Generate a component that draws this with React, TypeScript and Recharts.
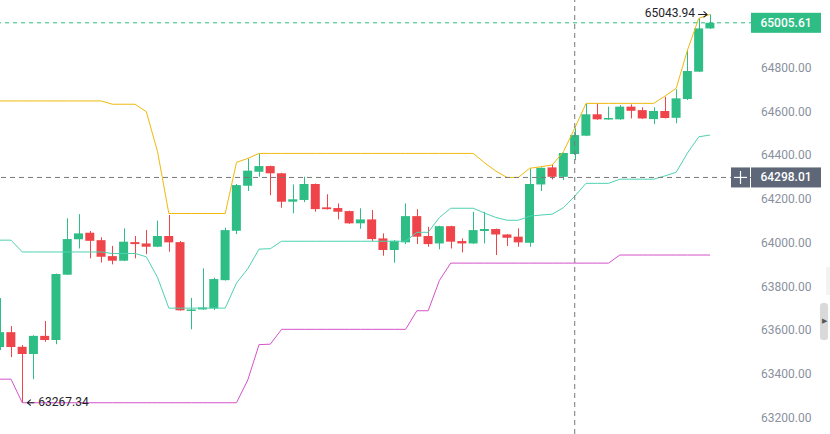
import { ComposedChart, Bar, Line, XAxis, YAxis, ReferenceLine, ReferenceDot } from 'recharts';

const opens = [
  63522, 63590, 63523, 63490, 63573, 63554, 63853, 64015, 64045, 64011,
  63938, 63917, 64002, 63996, 63981, 64030, 64002, 63688, 63694, 63699,
  63828, 64054, 64260, 64324, 64350, 64317, 64187, 64195, 64268, 64161,
  64158, 64144, 64088, 64106, 64019, 63966, 64001, 64121, 64030, 63996,
  64075, 64007, 63996, 64053, 64062, 64037, 64027, 63999, 64266, 64344,
  64301, 64405, 64489, 64587, 64564, 64564, 64622, 64606, 64565, 64602,
  64571, 64657, 64782, 64980,
];
const highs = [
  63746, 63618, 63531, 63576, 63641, 63858, 64111, 64130, 64053, 64024,
  63985, 64065, 64030, 64057, 64100, 64126, 64007, 63747, 63882, 63839,
  64068, 64268, 64385, 64405, 64352, 64319, 64266, 64301, 64270, 64221,
  64179, 64146, 64157, 64149, 64042, 64011, 64179, 64153, 64072, 64077,
  64077, 64019, 64141, 64141, 64064, 64039, 64065, 64340, 64344, 64358,
  64412, 64523, 64637, 64637, 64622, 64629, 64632, 64619, 64619, 64667,
  64701, 64881, 65026, 65043.94,
];
const lows = [
  63508, 63476, 63267.34, 63375, 63546, 63535, 63852, 63973, 63928, 63909,
  63900, 63915, 63928, 63947, 63979, 63958, 63688, 63603, 63692, 63691,
  63826, 64039, 64236, 64301, 64217, 64159, 64134, 64185, 64141, 64151,
  64106, 64086, 64063, 64007, 63940, 63908, 63993, 63993, 63981, 63969,
  63973, 63955, 63994, 63996, 63943, 63984, 63981, 63981, 64236, 64289,
  64286, 64378, 64487, 64562, 64562, 64562, 64568, 64566, 64542, 64568,
  64546, 64652, 64780, 64978,
];
const closes = [
  63590, 63522, 63490, 63573, 63554, 63856, 64016, 64042, 64008, 63935,
  63917, 64004, 63993, 63981, 64030, 64001, 63690, 63694, 63703, 63833,
  64057, 64263, 64329, 64350, 64317, 64187, 64198, 64268, 64153, 64153,
  64141, 64088, 64106, 64016, 63966, 64008, 64121, 64027, 63993, 64075,
  64004, 63996, 64057, 64062, 64037, 64022, 64001, 64268, 64342, 64301,
  64410, 64492, 64587, 64564, 64570, 64622, 64603, 64568, 64602, 64570,
  64660, 64785, 64980, 65005.61,
];
const upperBand = [
  64648, 64648, 64648, 64648, 64648, 64648, 64648, 64648, 64648, 64648,
  64633, 64633, 64633, 64599, 64416, 64133, 64133, 64133, 64133, 64133,
  64133, 64367, 64385, 64408, 64408, 64408, 64408, 64408, 64408, 64408,
  64408, 64408, 64408, 64408, 64408, 64408, 64408, 64408, 64408, 64408,
  64408, 64408, 64408, 64365, 64327, 64298, 64298, 64340, 64347, 64355,
  64416, 64523, 64637, 64637, 64637, 64637, 64637, 64637, 64637, 64670,
  64706, 64881, 65026, 65044,
];
const middleBand = [
  64011, 64011, 63957, 63957, 63957, 63957, 63957, 63957, 63957, 63957,
  63950, 63950, 63950, 63935, 63840, 63700, 63700, 63700, 63700, 63700,
  63700, 63815, 63880, 63970, 63972, 64006, 64006, 64006, 64006, 64006,
  64006, 64006, 64006, 64006, 64006, 64006, 64006, 64047, 64047, 64115,
  64157, 64157, 64157, 64135, 64115, 64102, 64102, 64121, 64126, 64130,
  64160, 64212, 64271, 64271, 64271, 64290, 64290, 64290, 64290, 64305,
  64322, 64410, 64484, 64492,
];
const lowerBand = [
  63375, 63375, 63267, 63267, 63267, 63267, 63267, 63267, 63267, 63267,
  63267, 63267, 63267, 63267, 63267, 63267, 63267, 63267, 63267, 63267,
  63267, 63267, 63371, 63533, 63535, 63603, 63603, 63603, 63603, 63603,
  63603, 63603, 63603, 63603, 63603, 63603, 63603, 63688, 63688, 63827,
  63906, 63906, 63906, 63906, 63906, 63906, 63906, 63906, 63906, 63906,
  63906, 63906, 63906, 63906, 63906, 63943, 63943, 63943, 63943, 63943,
  63943, 63943, 63943, 63943,
];
const priceTicks = [63200, 63400, 63600, 63800, 64000, 64200, 64400, 64600, 64800];

const lastPrice = 65005.61;
const crossPrice = 64298.01;
const crossIndex = 51;
const maxIndex = 63;
const minIndex = 2;

const GREEN = '#2ebd85';
const RED = '#ef454a';

const data = opens.map((open, i) => ({
  i,
  open,
  high: highs[i],
  low: lows[i],
  close: closes[i],
  upper: upperBand[i],
  middle: middleBand[i],
  lower: lowerBand[i],
}));

const Candle = (props: any) => {
  const { x, y, width, height, payload } = props;
  if (x == null || y == null) return null;
  const top = Math.min(y, y + height);
  const bottom = Math.max(y, y + height);
  const span = payload.high - payload.low;
  const toY = (v: number) => (span === 0 ? top : top + ((payload.high - v) / span) * (bottom - top));
  const up = payload.close >= payload.open;
  const color = up ? GREEN : RED;
  const bTop = toY(Math.max(payload.open, payload.close));
  const bBot = toY(Math.min(payload.open, payload.close));
  const cx = Math.round(x + width / 2) + 0.5;
  return (
    <g>
      <line x1={cx} x2={cx} y1={top} y2={bottom} stroke={color} strokeWidth={1} />
      <rect x={x} y={bTop} width={width} height={Math.max(1.5, bBot - bTop)} fill={color} />
    </g>
  );
};

const PriceTag = ({ viewBox, text, fill, plus }: any) => {
  const cy = viewBox.y;
  return (
    <g>
      {plus && (
        <g>
          <rect x={731} y={cy - 10} width={19} height={20} fill={fill} />
          <line x1={734} x2={747} y1={cy} y2={cy} stroke="#fff" strokeWidth={1.2} />
          <line x1={740.5} x2={740.5} y1={cy - 6.5} y2={cy + 6.5} stroke="#fff" strokeWidth={1.2} />
        </g>
      )}
      <rect x={751} y={cy - 10} width={70} height={20} fill={fill} />
      <text x={786} y={cy} textAnchor="middle" dominantBaseline="central" fill="#fff" fontSize={12} fontWeight={500} fontFamily="Roboto">
        {text}
      </text>
    </g>
  );
};

// small arrow drawn as a path, pointing left or right
const Arrow = ({ x1, x2, y }: { x1: number; x2: number; y: number }) => {
  const dir = x2 > x1 ? 1 : -1;
  return (
    <path
      d={`M${x1},${y} L${x2},${y} M${x2 - dir * 3.5},${y - 3} L${x2},${y} L${x2 - dir * 3.5},${y + 3}`}
      stroke="#1e2329"
      strokeWidth={1.1}
      fill="none"
    />
  );
};

const HighLabel = ({ viewBox }: any) => (
  <g>
    <text x={viewBox.x - 15} y={viewBox.y - 1} textAnchor="end" dominantBaseline="central" fill="#1e2329" fontSize={12} fontFamily="Roboto">
      {highs[maxIndex].toFixed(2)}
    </text>
    <Arrow x1={viewBox.x - 12} x2={viewBox.x - 3} y={viewBox.y} />
  </g>
);

const LowLabel = ({ viewBox }: any) => (
  <g>
    <Arrow x1={viewBox.x + 12} x2={viewBox.x + 5} y={viewBox.y} />
    <text x={viewBox.x + 16} y={viewBox.y - 1} textAnchor="start" dominantBaseline="central" fill="#1e2329" fontSize={12} fontFamily="Roboto">
      {lows[minIndex].toFixed(2)}
    </text>
  </g>
);

export default function App() {
  return (
    <div style={{ position: 'absolute', left: 0, top: 0, width: 830, height: 434, background: '#fff', overflow: 'hidden' }}>
      <ComposedChart width={830} height={434} data={data} margin={{ top: 0, right: 0, bottom: 0, left: 0 }}>
        <XAxis dataKey="i" type="number" domain={[0.024, 66.81]} hide allowDataOverflow />
        <YAxis
          orientation="right"
          width={77}
          domain={[63124, 65110]}
          ticks={priceTicks}
          axisLine={false}
          tickLine={false}
          allowDataOverflow
          tick={{ fill: '#8a919e', fontSize: 12, fontFamily: 'Roboto' }}
          tickFormatter={(v: number) => v.toFixed(2)}
        />
        <Line dataKey="upper" type="linear" stroke="#f0b90b" strokeWidth={1} dot={false} activeDot={false} isAnimationActive={false} />
        <Line dataKey="middle" type="linear" stroke="#4fd1b2" strokeWidth={1} dot={false} activeDot={false} isAnimationActive={false} />
        <Line dataKey="lower" type="linear" stroke="#d552c9" strokeWidth={1} dot={false} activeDot={false} isAnimationActive={false} />
        <Bar dataKey={(d: any) => [d.low, d.high]} barSize={9} shape={Candle} isAnimationActive={false} />
        <ReferenceLine x={crossIndex} stroke="#777" strokeDasharray="5 4" />
        <ReferenceLine
          y={crossPrice}
          stroke="#777"
          strokeDasharray="5 4"
          label={(p: any) => <PriceTag {...p} text={crossPrice.toFixed(2)} fill="#5d6778" plus />}
        />
        <ReferenceLine
          y={lastPrice}
          stroke={GREEN}
          strokeDasharray="4 4"
          label={(p: any) => <PriceTag {...p} text={lastPrice.toFixed(2)} fill={GREEN} />}
        />
        <ReferenceDot x={maxIndex} y={highs[maxIndex]} r={0} stroke="none" fill="none" label={HighLabel} />
        <ReferenceDot x={minIndex} y={lows[minIndex]} r={0} stroke="none" fill="none" label={LowLabel} />
      </ComposedChart>
      <div style={{ position: 'absolute', left: 826, top: 267, width: 4, height: 28, background: '#f3f3f3' }} />
      <div
        style={{
          position: 'absolute',
          left: 820,
          top: 303,
          width: 8,
          height: 37,
          background: '#d9d9d9',
          borderRadius: 3,
          fontSize: 7,
          color: '#555',
          lineHeight: '37px',
          textAlign: 'center',
        }}
      >
        ▶
      </div>
    </div>
  );
}
